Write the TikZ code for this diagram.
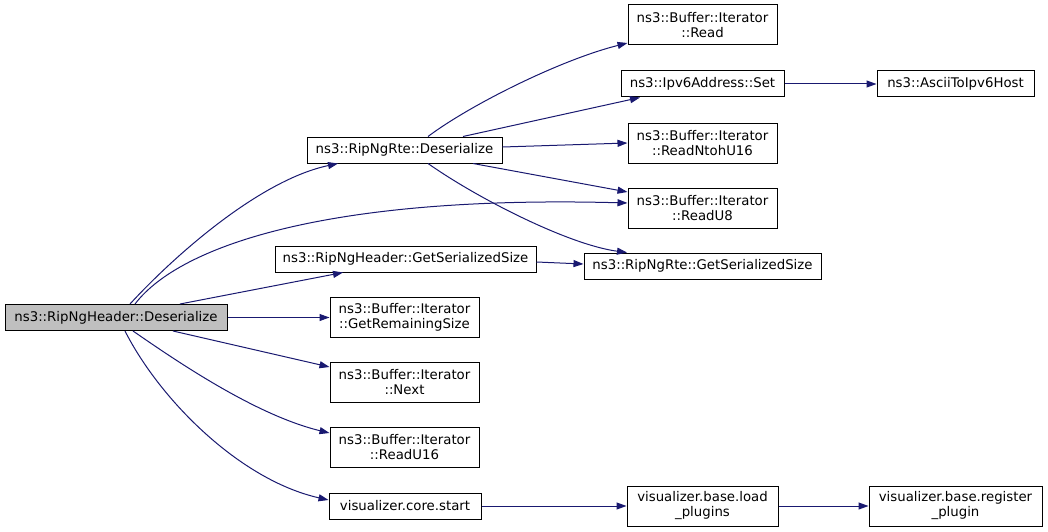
\documentclass[tikz,border=0pt]{standalone}
\usepackage{fontspec}
\setmainfont{DejaVu Sans}
\usetikzlibrary{arrows.meta}
\definecolor{edgeblue}{HTML}{191970}
\definecolor{rootgray}{HTML}{BFBFBF}
\begin{document}
\begin{tikzpicture}[x=1pt,y=-1pt,
  box/.style={draw=black, line width=1pt, fill=white, inner sep=0pt, align=center,
    font=\fontsize{13.3}{15}\selectfont, minimum height=26pt},
  box2/.style={box, minimum height=40pt},
  root/.style={box, fill=rootgray},
  edge/.style={draw=edgeblue, line width=1pt, -{Triangle[length=10pt,width=7pt]}}]
\useasboundingbox (0,0) rectangle (1048,532);
% nodes
\node[root, minimum width=222pt] (hdr) at (116,317.5) {ns3::RipNgHeader::Deserialize};
\node[box, minimum width=195pt] (rte) at (404.5,150) {ns3::RipNgRte::Deserialize};
\node[box2, minimum width=149pt] (read) at (702.5,25) {ns3::Buffer::Iterator\\::Read};
\node[box, minimum width=163pt] (set) at (702.5,84) {ns3::Ipv6Address::Set};
\node[box, minimum width=157pt] (ascii) at (955.5,84) {ns3::AsciiToIpv6Host};
\node[box2, minimum width=149pt] (ntoh) at (702.5,143) {ns3::Buffer::Iterator\\::ReadNtohU16};
\node[box2, minimum width=149pt] (ru8) at (702.5,208) {ns3::Buffer::Iterator\\::ReadU8};
\node[box, minimum width=237pt] (rgss) at (702.5,266) {ns3::RipNgRte::GetSerializedSize};
\node[box, minimum width=261pt] (hgss) at (405.5,259) {ns3::RipNgHeader::GetSerializedSize};
\node[box2, minimum width=149pt] (grs) at (404.5,317.5) {ns3::Buffer::Iterator\\::GetRemainingSize};
\node[box2, minimum width=149pt] (next) at (404.5,382) {ns3::Buffer::Iterator\\::Next};
\node[box2, minimum width=149pt] (ru16) at (404.5,447) {ns3::Buffer::Iterator\\::ReadU16};
\node[box, minimum width=152pt] (start) at (405,506) {visualizer.core.start};
\node[box2, minimum width=151pt] (load) at (702.5,506) {visualizer.base.load\\\_plugins};
\node[box2, minimum width=173pt] (reg) at (955.5,506) {visualizer.base.register\\\_plugin};
% edges from root
\draw[edge] ([xshift=14pt]hdr.north) .. controls (175,255) and (260,180) .. ([xshift=-66.5pt]rte.south);
\draw[edge] ([xshift=19pt]hdr.north) .. controls (180,245) and (330,195) .. ([yshift=5pt]ru8.west);
\draw[edge] ([xshift=64pt]hdr.north) -- ([xshift=-62.5pt]hgss.south);
\draw[edge] (hdr.east) -- (grs.west);
\draw[edge] ([xshift=57pt]hdr.south) -- ([yshift=15pt]next.west);
\draw[edge] ([xshift=17pt]hdr.south) .. controls (175,360) and (255,415) .. ([yshift=14pt]ru16.west);
\draw[edge] ([xshift=9pt]hdr.south) .. controls (160,400) and (240,480) .. ([yshift=6pt]start.west);
% edges from RipNgRte::Deserialize
\draw[edge] ([xshift=23.5pt]rte.north) .. controls (470,105) and (560,60) .. ([yshift=-18pt]read.west);
\draw[edge] ([xshift=58.5pt]rte.north) -- ([xshift=-62.5pt]set.south);
\draw[edge] ([yshift=3pt]rte.east) -- (ntoh.west);
\draw[edge] ([xshift=68.5pt]rte.south) -- ([yshift=16pt]ru8.west);
\draw[edge] ([xshift=23.5pt]rte.south) .. controls (480,200) and (570,245) .. ([xshift=-75.5pt]rgss.north);
% other edges
\draw[edge] (set.east) -- (ascii.west);
\draw[edge] ([yshift=-3pt]hgss.east) -- ([yshift=2pt]rgss.west);
\draw[edge] (start.east) -- (load.west);
\draw[edge] (load.east) -- (reg.west);
\end{tikzpicture}
\end{document}
